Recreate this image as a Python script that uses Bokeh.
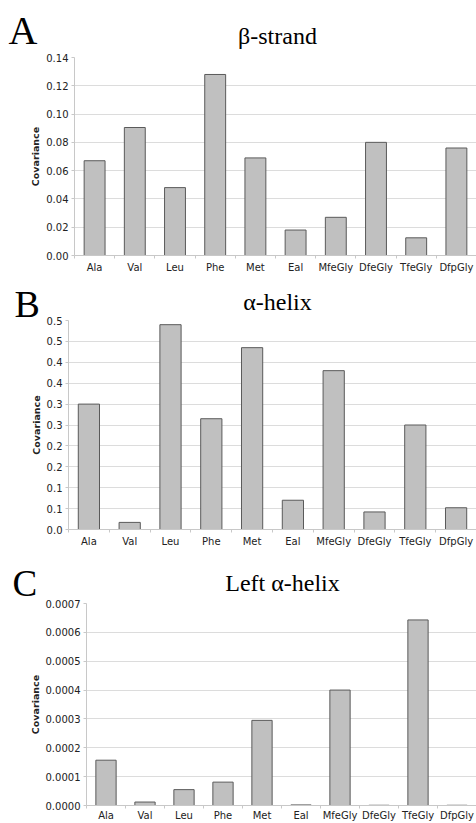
from bokeh.plotting import figure
from bokeh.models import Range1d, FixedTicker
from bokeh.core.properties import value
from bokeh.embed import file_html
from bokeh.resources import INLINE

categories = ["Ala", "Val", "Leu", "Phe", "Met", "Eal", "MfeGly", "DfeGly", "TfeGly", "DfpGly"]
beta_strand = [0.067, 0.0905, 0.048, 0.128, 0.069, 0.018, 0.027, 0.080, 0.0125, 0.076]
alpha_helix = [0.300, 0.017, 0.490, 0.265, 0.435, 0.070, 0.380, 0.042, 0.250, 0.052]
left_alpha_helix = [0.000157, 0.000012, 0.000055, 0.000081, 0.000295, 0.000002,
                    0.000400, 0.0000008, 0.000643, 0.0000008]

a_ticks = [0.00, 0.02, 0.04, 0.06, 0.08, 0.10, 0.12, 0.14]
a_tick_labels = ["0.00", "0.02", "0.04", "0.06", "0.08", "0.10", "0.12", "0.14"]
b_ticks = [0.00, 0.05, 0.10, 0.15, 0.20, 0.25, 0.30, 0.35, 0.40, 0.45, 0.50]
b_tick_labels = ["0.0", "0.1", "0.1", "0.2", "0.2", "0.3", "0.3", "0.4", "0.4", "0.5", "0.5"]
c_ticks = [0.0, 0.0001, 0.0002, 0.0003, 0.0004, 0.0005, 0.0006, 0.0007]
c_tick_labels = ["0.0000", "0.0001", "0.0002", "0.0003", "0.0004", "0.0005", "0.0006", "0.0007"]

SANS = "DejaVu Sans"
SERIF = "Liberation Serif"
TXT = "#222222"
W = 476
OVERLAP = 12


def header(h, letter, letter_size, letter_x, letter_base, title, title_x, title_base):
    hh = h + OVERLAP
    p = figure(width=W, height=hh, output_backend="svg", toolbar_location=None,
               x_range=Range1d(0, W), y_range=Range1d(hh, 0),
               min_border=0, x_axis_type=None, y_axis_type=None,
               styles={"margin-bottom": f"-{OVERLAP}px"})
    p.outline_line_color = None
    p.background_fill_color = None
    p.border_fill_color = None
    p.grid.visible = False
    p.text(x=[letter_x], y=[letter_base], text=[letter], text_font=value(SERIF),
           text_font_size=f"{letter_size}px", text_color="#000000",
           text_baseline="alphabetic", text_align="left")
    p.text(x=[title_x], y=[title_base], text=[title], text_font=value(SERIF),
           text_font_size="24px", text_color="#000000",
           text_baseline="alphabetic", text_align="center")
    return p


def panel(values, yticks, ylabels, height, btop, bbottom, bleft, xstand=3):
    n = len(categories)
    xs = list(range(n))
    p = figure(width=W, height=height, output_backend="svg", toolbar_location=None,
               x_range=Range1d(-0.5, n - 0.5), y_range=Range1d(yticks[0], yticks[-1]),
               min_border_left=bleft, min_border_right=0, min_border_top=btop,
               min_border_bottom=bbottom)
    p.outline_line_color = None
    p.background_fill_color = None
    p.border_fill_color = None
    p.vbar(x=xs, top=values, width=0.52, bottom=0, fill_color="#c0c0c0",
           line_color="#5a5a5a", line_width=1)

    p.xaxis.ticker = FixedTicker(ticks=xs, minor_ticks=[i + 0.5 for i in range(-1, n)])
    p.xaxis.major_label_overrides = {i: c for i, c in enumerate(categories)}
    p.xaxis.major_tick_out = 0
    p.xaxis.major_tick_in = 0
    p.xaxis.minor_tick_out = 3
    p.xaxis.minor_tick_in = 0
    p.xaxis.minor_tick_line_color = "#c8c8c8"
    p.xaxis.axis_line_color = "#c8c8c8"
    p.xaxis.major_label_standoff = xstand
    p.xaxis.major_label_text_font = SANS
    p.xaxis.major_label_text_font_size = "10px"
    p.xaxis.major_label_text_color = TXT
    p.xgrid.grid_line_color = None

    p.yaxis.ticker = FixedTicker(ticks=yticks)
    p.yaxis.major_label_overrides = {t: s for t, s in zip(yticks, ylabels)}
    p.yaxis.major_tick_out = 3
    p.yaxis.major_tick_in = 0
    p.yaxis.minor_tick_line_color = None
    p.yaxis.major_tick_line_color = "#c8c8c8"
    p.yaxis.axis_line_color = "#c8c8c8"
    p.yaxis.major_label_standoff = 3
    p.yaxis.major_label_text_font = SANS
    p.yaxis.major_label_text_font_size = "10px"
    p.yaxis.major_label_text_color = TXT
    p.yaxis.axis_label = "Covariance"
    p.yaxis.axis_label_text_font = SANS
    p.yaxis.axis_label_text_font_size = "9.5px"
    p.yaxis.axis_label_text_font_style = "bold"
    p.yaxis.axis_label_text_color = TXT
    p.yaxis.axis_label_standoff = 2
    p.ygrid.grid_line_color = "#dcdcdc"
    p.ygrid.ticker = FixedTicker(ticks=yticks)
    return p


ha = header(51, "A", 40, 8, 30, "β-strand", 277, 35)
pa = panel(beta_strand, a_ticks, a_tick_labels, 226, 6, 22, 74)
hb = header(39, "B", 38, 14, 26, "α-helix", 277, 24)
pb = panel(alpha_helix, b_ticks, b_tick_labels, 239, 4, 26, 68)
hc = header(43, "C", 37, 12, 28, "Left α-helix", 282, 27)
pc = panel(left_alpha_helix, c_ticks, c_tick_labels, 225, 5, 18, 86, xstand=1)

open("out.html", "w").write(file_html([ha, pa, hb, pb, hc, pc], INLINE))
